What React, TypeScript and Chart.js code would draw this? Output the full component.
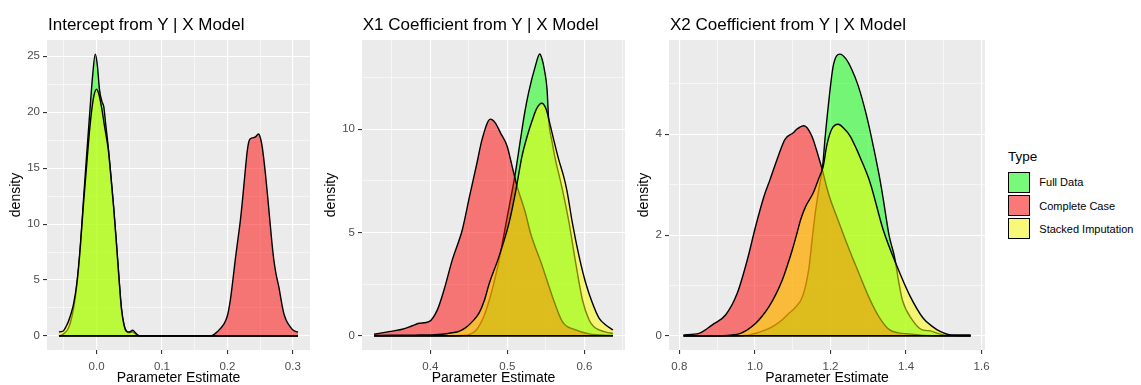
import React, { useEffect, useRef } from "react";
import { Chart, registerables } from "chart.js";

Chart.register(...registerables);

type Pt = [number, number];

const TYPES = ["Full Data", "Complete Case", "Stacked Imputation"];
const FILLS = ["rgba(0,255,0,0.5)", "rgba(255,0,0,0.5)", "rgba(255,255,0,0.5)"];
const TITLES = ["Intercept from Y | X Model", "X1 Coefficient from Y | X Model", "X2 Coefficient from Y | X Model"];
const X_TITLE = "Parameter Estimate";
const Y_TITLE = "density";
const LEGEND_TITLE = "Type";

// ---------- Panel 1: Intercept ----------
const interceptFull: Pt[] = [
  [-0.0575, 0.0], [-0.052, 0.12], [-0.048, 0.3], [-0.044, 0.6], [-0.04, 1.2], [-0.035, 2.5],
  [-0.03, 4.6], [-0.025, 7.8], [-0.02, 12.2], [-0.015, 16.3], [-0.01, 20.3], [-0.006, 23.3],
  [-0.002, 25.2], [0.001, 24.3], [0.0045, 22.0], [0.008, 21.0], [0.011, 20.5], [0.014, 18.9],
  [0.018, 16.8], [0.022, 14.2], [0.026, 11.5], [0.03, 8.5], [0.034, 5.3], [0.038, 2.4],
  [0.042, 0.9], [0.046, 0.35], [0.05, 0.28], [0.055, 0.35], [0.059, 0.2], [0.064, 0.03],
  [0.07, 0], [0.308, 0],
];
const interceptComplete: Pt[] = [
  [-0.0575, 0], [0.17, 0], [0.176, 0.03], [0.185, 0.4], [0.194, 1.0], [0.2, 1.8], [0.2045, 3.2],
  [0.208, 4.8], [0.212, 6.8], [0.216, 8.6], [0.22, 10.4], [0.224, 12.7], [0.2275, 14.9],
  [0.2305, 16.6], [0.2335, 17.5], [0.238, 17.7], [0.243, 17.8], [0.2475, 18.05], [0.2505, 17.7],
  [0.253, 17.0], [0.2555, 15.9], [0.258, 14.6], [0.2615, 12.5], [0.2648, 10.4], [0.268, 8.4],
  [0.271, 6.8], [0.2745, 5.5], [0.2786, 4.4], [0.2825, 3.1], [0.2863, 2.0], [0.29, 1.4],
  [0.294, 0.98], [0.299, 0.6], [0.304, 0.4], [0.308, 0.35],
];
const interceptStacked: Pt[] = [
  [-0.0575, 0.35], [-0.054, 0.38], [-0.0506, 0.45], [-0.047, 0.8], [-0.043, 1.3], [-0.039, 2.0],
  [-0.035, 2.9], [-0.03, 4.8], [-0.025, 7.9], [-0.02, 11.8], [-0.015, 15.4], [-0.01, 18.8],
  [-0.005, 21.2], [0.0, 22.05], [0.004, 21.5], [0.008, 20.3], [0.012, 18.8], [0.018, 16.6],
  [0.022, 14.2], [0.026, 11.6], [0.03, 8.6], [0.034, 5.4], [0.038, 2.5], [0.042, 1.0],
  [0.046, 0.42], [0.05, 0.35], [0.0555, 0.5], [0.059, 0.3], [0.064, 0.05], [0.07, 0], [0.308, 0],
];
const interceptXMajor = [0, 0.1, 0.2, 0.3];
const interceptXLabels = ["0.0", "0.1", "0.2", "0.3"];
const interceptXMinor = [-0.05, 0.05, 0.15, 0.25];
const interceptYMajor = [0, 5, 10, 15, 20, 25];
const interceptYLabels = ["0", "5", "10", "15", "20", "25"];
const interceptYMinor = [2.5, 7.5, 12.5, 17.5, 22.5];

// ---------- Panel 2: X1 coefficient ----------
const x1Full: Pt[] = [
  [0.327, 0], [0.42, 0], [0.44, 0.02], [0.45, 0.06], [0.46, 0.3], [0.47, 1.0], [0.48, 2.2],
  [0.49, 3.8], [0.5, 5.8], [0.51, 7.8], [0.517, 9.5], [0.5225, 10.8], [0.5277, 11.8],
  [0.5364, 13.07], [0.542, 13.64], [0.545, 13.4], [0.548, 12.9], [0.5515, 11.94], [0.5537, 10.4],
  [0.558, 9.4], [0.5623, 8.54], [0.567, 7.8], [0.5714, 7.09], [0.5801, 5.47], [0.5887, 3.53],
  [0.5974, 1.75], [0.606, 0.78], [0.612, 0.45], [0.619, 0.29], [0.628, 0.18], [0.637, 0.12],
];
const x1Complete: Pt[] = [
  [0.327, 0.08], [0.3464, 0.21], [0.3636, 0.32], [0.3766, 0.49], [0.3853, 0.61], [0.3983, 0.69],
  [0.4091, 1.26], [0.4178, 2.23], [0.4286, 3.69], [0.4416, 5.15], [0.4506, 6.7], [0.4606, 8.38],
  [0.4671, 9.5], [0.4779, 10.49], [0.4845, 10.3], [0.4909, 9.84], [0.4996, 9.19], [0.5061, 8.22],
  [0.5126, 7.25], [0.5234, 5.96], [0.53, 4.98], [0.5455, 3.36], [0.5584, 1.91], [0.5714, 0.69],
  [0.5887, 0.29], [0.606, 0.1], [0.637, 0.02],
];
const x1Stacked: Pt[] = [
  [0.327, 0.02], [0.35, 0.03], [0.38, 0.04], [0.4, 0.05], [0.4156, 0.08], [0.428, 0.15],
  [0.4372, 0.22], [0.446, 0.4], [0.4545, 0.69], [0.4632, 1.1], [0.47, 1.7], [0.4762, 2.5],
  [0.4892, 3.85], [0.5022, 5.47], [0.5108, 7.0], [0.519, 8.7], [0.526, 9.7], [0.532, 10.4],
  [0.538, 11.0], [0.5446, 11.26], [0.55, 11.0], [0.555, 10.3], [0.5601, 9.5], [0.5666, 8.54],
  [0.573, 7.73], [0.5775, 7.0], [0.5844, 5.47], [0.5931, 3.85], [0.6017, 2.56], [0.6104, 1.59],
  [0.619, 0.86], [0.6277, 0.53], [0.637, 0.29],
];
const x1XMajor = [0.4, 0.5, 0.6];
const x1XLabels = ["0.4", "0.5", "0.6"];
const x1XMinor = [0.35, 0.45, 0.55, 0.65];
const x1YMajor = [0, 5, 10];
const x1YLabels = ["0", "5", "10"];
const x1YMinor = [2.5, 7.5, 12.5];

// ---------- Panel 3: X2 coefficient ----------
const x2Full: Pt[] = [
  [0.811, 0], [0.95, 0], [0.985, 0.02], [1.0286, 0.12], [1.05, 0.2], [1.0725, 0.32], [1.09, 0.45],
  [1.105, 0.55], [1.127, 0.8], [1.143, 1.35], [1.152, 1.95], [1.16, 2.45], [1.17, 2.95],
  [1.1794, 3.37], [1.1854, 3.9], [1.1942, 4.56], [1.2074, 5.36], [1.2251, 5.59], [1.2405, 5.5],
  [1.2561, 5.29], [1.2735, 4.96], [1.2958, 4.36], [1.3132, 3.77], [1.331, 3.1], [1.34, 2.7],
  [1.355, 2.0], [1.37, 1.55], [1.38, 1.1], [1.39, 0.72], [1.4165, 0.32], [1.443, 0.12],
  [1.465, 0.1], [1.48, 0.06], [1.5, 0.02], [1.571, 0],
];
const x2Complete: Pt[] = [
  [0.811, 0.02], [0.852, 0.05], [0.8873, 0.22], [0.9228, 0.42], [0.9534, 0.85], [0.9799, 1.51],
  [1.0021, 2.18], [1.0241, 2.77], [1.04, 3.1], [1.0619, 3.57], [1.0796, 3.9], [1.1016, 4.03],
  [1.1106, 4.1], [1.1299, 4.17], [1.1503, 3.97], [1.1677, 3.57], [1.18, 3.25], [1.19, 2.95],
  [1.2, 2.7], [1.22, 2.3], [1.24, 1.9], [1.2693, 1.35], [1.3045, 0.72], [1.3283, 0.38],
  [1.3548, 0.13], [1.38, 0.06], [1.4077, 0.04], [1.45, 0.01], [1.571, 0],
];
const x2Stacked: Pt[] = [
  [0.811, 0], [0.9, 0], [0.94, 0.02], [0.958, 0.04], [0.98, 0.12], [1.0021, 0.25], [1.02, 0.4],
  [1.0373, 0.58], [1.055, 0.82], [1.0725, 1.11], [1.086, 1.4], [1.099, 1.71], [1.11, 2.0],
  [1.1212, 2.31], [1.1344, 2.57], [1.1545, 2.84], [1.1677, 3.1], [1.181, 3.37], [1.19, 3.77],
  [1.2032, 4.1], [1.2206, 4.2], [1.235, 4.12], [1.2516, 3.97], [1.2693, 3.7], [1.278, 3.55],
  [1.3045, 3.05], [1.3397, 2.1], [1.375, 1.4], [1.41, 0.8], [1.4455, 0.35], [1.4693, 0.19],
  [1.49, 0.09], [1.52, 0.02], [1.571, 0.02],
];
const x2XMajor = [0.8, 1.0, 1.2, 1.4, 1.6];
const x2XLabels = ["0.8", "1.0", "1.2", "1.4", "1.6"];
const x2XMinor = [0.9, 1.1, 1.3, 1.5];
const x2YMajor = [0, 2, 4];
const x2YLabels = ["0", "2", "4"];
const x2YMinor = [1, 3, 5];

const FONT = "'Liberation Sans', Arial, Helvetica, sans-serif";

interface PanelSpec {
  title: string; series: Pt[][]; xRange: [number, number]; yRange: [number, number];
  xMajor: number[]; xLabels: string[]; xMinor: number[]; yMajor: number[]; yLabels: string[]; yMinor: number[];
  canvasLeft: number; canvasWidth: number; padRight: number; axisWidth: number; titleLeft: number;
}

const PANELS: PanelSpec[] = [
  {
    title: TITLES[0], series: [interceptFull, interceptComplete, interceptStacked],
    xRange: [-0.0758, 0.3263], yRange: [-1.26, 26.46],
    xMajor: interceptXMajor, xLabels: interceptXLabels, xMinor: interceptXMinor,
    yMajor: interceptYMajor, yLabels: interceptYLabels, yMinor: interceptYMinor,
    canvasLeft: 0, canvasWidth: 315, padRight: 5, axisWidth: 47, titleLeft: 48,
  },
  {
    title: TITLES[1], series: [x1Full, x1Complete, x1Stacked],
    xRange: [0.3113, 0.6527], yRange: [-0.682, 14.32],
    xMajor: x1XMajor, xLabels: x1XLabels, xMinor: x1XMinor,
    yMajor: x1YMajor, yLabels: x1YLabels, yMinor: x1YMinor,
    canvasLeft: 315, canvasWidth: 315, padRight: 5, axisWidth: 47, titleLeft: 362.7,
  },
  {
    title: TITLES[2], series: [x2Full, x2Complete, x2Stacked],
    xRange: [0.7726, 1.609], yRange: [-0.2795, 5.87],
    xMajor: x2XMajor, xLabels: x2XLabels, xMinor: x2XMinor,
    yMajor: x2YMajor, yLabels: x2YLabels, yMinor: x2YMinor,
    canvasLeft: 628, canvasWidth: 372, padRight: 15, axisWidth: 41, titleLeft: 670,
  },
];

const panelBg = {
  id: "panelBg",
  beforeDraw(chart: any) {
    const { ctx, chartArea } = chart;
    ctx.save();
    ctx.fillStyle = "#EBEBEB";
    ctx.fillRect(chartArea.left, chartArea.top, chartArea.right - chartArea.left, chartArea.bottom - chartArea.top);
    ctx.restore();
  },
};

function isIn(list: number[], v: number | undefined) {
  if (v === undefined || v === null) return false;
  return list.some((m) => Math.abs(m - v) < 1e-9);
}

function makeScale(range: [number, number], major: number[], labels: string[], minor: number[], horizontal: boolean, fitSize: number) {
  return {
    type: "linear", min: range[0], max: range[1],
    afterBuildTicks: (scale: any) => {
      scale.ticks = [...minor, ...major].sort((a, b) => a - b).map((v) => ({ value: v }));
    },
    afterFit: (scale: any) => {
      if (horizontal) scale.height = fitSize; else scale.width = fitSize;
      scale.paddingLeft = 0; scale.paddingRight = 0; scale.paddingTop = 0; scale.paddingBottom = 0;
    },
    border: { display: false },
    grid: {
      color: "#FFFFFF",
      lineWidth: (c: any) => (isIn(major, c.tick?.value) ? 1.1 : 0.55),
      tickColor: (c: any) => (isIn(major, c.tick?.value) ? "#333333" : "rgba(0,0,0,0)"),
      tickLength: 4, tickWidth: 1.1, drawTicks: true,
    },
    ticks: {
      autoSkip: false, maxRotation: 0, minRotation: 0, color: "#4D4D4D",
      padding: horizontal ? 6 : 3,
      font: { family: FONT, size: 11.5, lineHeight: 1.2 },
      callback: (value: number) => {
        const i = major.findIndex((m) => Math.abs(m - value) < 1e-9);
        return i >= 0 ? labels[i] : "";
      },
    },
    title: {
      display: true, text: horizontal ? X_TITLE : Y_TITLE, color: "#000000",
      font: { family: FONT, size: 14, lineHeight: 1 },
      padding: horizontal ? { top: 0, bottom: 0.15 } : { top: 8.65, bottom: 0 },
    },
  };
}

function Panel({ spec }: { spec: PanelSpec }) {
  const ref = useRef<HTMLCanvasElement | null>(null);
  useEffect(() => {
    if (!ref.current) return;
    const orders = [3, 2, 1];
    const datasets: any[] = spec.series.map((pts, i) => ({
      label: TYPES[i], data: pts.map(([x, y]) => ({ x, y })), borderColor: "#000000", borderWidth: 1.4,
      backgroundColor: FILLS[i], fill: "origin", cubicInterpolationMode: "monotone", pointRadius: 0, order: orders[i],
    }));
    const xs = spec.series.flat().map((p) => p[0]);
    datasets.push({
      label: "baseline", data: [{ x: Math.min(...xs), y: 0 }, { x: Math.max(...xs), y: 0 }],
      borderColor: "#000000", borderWidth: 1.8, fill: false, pointRadius: 0, order: 0,
    });
    const chart = new Chart(ref.current, {
      type: "line", data: { datasets },
      options: {
        animation: false, responsive: false, devicePixelRatio: 1,
        layout: { padding: { top: 40, right: spec.padRight, left: 0, bottom: 0 } },
        plugins: { legend: { display: false }, tooltip: { enabled: false }, title: { display: false } },
        elements: { point: { radius: 0 } },
        scales: {
          x: makeScale(spec.xRange, spec.xMajor, spec.xLabels, spec.xMinor, true, 35),
          y: makeScale(spec.yRange, spec.yMajor, spec.yLabels, spec.yMinor, false, spec.axisWidth),
        },
      } as any,
      plugins: [panelBg],
    });
    return () => chart.destroy();
  }, [spec]);
  return (
    <>
      <div style={{ position: "absolute", left: spec.canvasLeft, top: 0, width: spec.canvasWidth, height: 385 }}>
        <canvas ref={ref} width={spec.canvasWidth} height={385} style={{ display: "block", width: spec.canvasWidth, height: 385 }} />
      </div>
      <div style={{ position: "absolute", left: spec.titleLeft, top: 16.3, fontFamily: FONT, fontSize: 17, lineHeight: "17px", color: "#000", whiteSpace: "nowrap" }}>
        {spec.title}
      </div>
    </>
  );
}

const LEGEND_KEY_TOPS = [172, 195, 218];
const LEGEND_LABEL_TOPS = [177.4, 200.7, 224];

export default function App() {
  return (
    <div style={{ position: "absolute", left: 0, top: 0, width: 1141, height: 385, background: "#FFFFFF", overflow: "hidden" }}>
      {PANELS.map((p, i) => (<Panel key={i} spec={p} />))}
      <div style={{ position: "absolute", left: 1008, top: 150.3, fontFamily: FONT, fontSize: 13.5, lineHeight: "13.5px", color: "#000" }}>
        {LEGEND_TITLE}
      </div>
      {TYPES.map((t, i) => (
        <React.Fragment key={t}>
          <div style={{ position: "absolute", left: 1008, top: LEGEND_KEY_TOPS[i], width: 22, height: 21, background: "#F2F2F2" }}>
            <div style={{ width: 22, height: 21, boxSizing: "border-box", border: "1px solid #000", background: FILLS[i] }} />
          </div>
          <div style={{ position: "absolute", left: 1039.3, top: LEGEND_LABEL_TOPS[i], fontFamily: FONT, fontSize: 11, lineHeight: "11px", color: "#000", whiteSpace: "nowrap" }}>
            {t}
          </div>
        </React.Fragment>
      ))}
    </div>
  );
}
